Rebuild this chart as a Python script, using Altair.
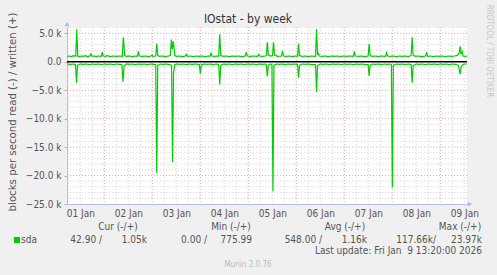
import altair as alt
import pandas as pd

# hours since 01 Jan 00:00 ; graph spans 05:20 Jan 1 -> 13:20 Jan 9
X_MIN, X_MAX = 5.333, 205.333
Y_MIN, Y_MAX = -25000, 6100

write_series = [
    (5.4, 950), (6.5, 1000), (7.5, 900), (8.5, 1050), (9.7, 950), (10.2, 5700), (10.7, 1000),
    (11.5, 900), (12.5, 1000), (13.5, 950), (14.5, 1050), (15.5, 900), (16.8, 1000), (17.3, 1400),
    (17.8, 950), (19, 1000), (20, 900), (21, 1000), (22.5, 950), (23, 1700), (23.5, 1000),
    (24.5, 950), (25.5, 1050), (27, 900), (28.5, 1000), (30, 950), (31.5, 1000), (33, 950),
    (33.5, 4300), (34.2, 1100), (35, 950), (36.5, 1000), (38, 900), (39.5, 1000), (40.5, 950),
    (41, 1800), (41.5, 1000), (43, 950), (44.5, 1000), (46, 900), (47.3, 1000), (47.8, 1200),
    (48.3, 950), (49.7, 1000), (50.2, 3200), (50.7, 1100), (51.5, 950), (53, 1000), (54.5, 900),
    (56, 1000), (57.0, 1100), (57.5, 3900), (58.0, 2200), (58.5, 3600), (59.2, 1100), (60, 950),
    (61.5, 1000), (63, 900), (64.5, 1000), (65, 1300), (65.5, 950), (67, 1000), (68.5, 900),
    (70, 1000), (71.5, 950), (73, 1000), (74.5, 900), (76, 1000), (76.8, 950), (77.3, 1500),
    (77.8, 1000), (79, 950), (80.5, 1000), (81.2, 1000), (81.7, 4800), (82.2, 1100), (83.5, 950),
    (85, 1000), (86.5, 900), (88, 1000), (89.5, 950), (91, 1000), (92.5, 900), (94.5, 1000),
    (95, 1700), (95.5, 1000), (97, 950), (98.5, 1000), (100.7, 950), (101.2, 1300), (101.7, 1000),
    (103, 950), (104.5, 1000), (105.0, 1100), (105.5, 3400), (106.0, 1200), (107, 1000),
    (108.1, 1100), (108.6, 3400), (109.1, 1200), (110.5, 950), (112.6, 1000), (113.1, 1900),
    (113.6, 1000), (115, 950), (116.5, 1000), (118, 900), (119.5, 1000), (120.6, 950),
    (121.1, 3200), (121.6, 1100), (123, 950), (124.5, 1000), (126, 900), (127.5, 1000),
    (129.6, 950), (130.1, 5700), (130.6, 1200), (130.9, 1500), (131.5, 1000), (133, 950),
    (134.5, 1000), (136, 900), (137.5, 1000), (139, 950), (140.5, 1000), (142, 900),
    (143.5, 1000), (145, 950), (146.5, 1000), (148.5, 950), (149, 1800), (149.5, 1000),
    (151, 950), (152.5, 1000), (154, 900), (155.9, 1000), (156.4, 3100), (156.9, 1100),
    (158, 950), (159.5, 1000), (161, 900), (162.5, 1000), (164.6, 950), (165.1, 1600),
    (165.6, 1000), (167, 950), (168.5, 1000), (170, 900), (171.5, 1000), (173, 950),
    (174.5, 1000), (176, 900), (177.4, 1100), (177.9, 4300), (178.4, 1200), (179.5, 950),
    (181, 1000), (182.5, 900), (184.6, 1000), (185.1, 1700), (185.6, 950), (187, 1000),
    (188.5, 900), (190, 1000), (191.5, 950), (193, 1000), (194.5, 900), (196, 1000),
    (197.5, 950), (199, 1000), (200.5, 1100), (201.4, 1500), (201.9, 2700), (202.4, 1300),
    (202.9, 1800), (203.4, 1000), (204.5, 950), (205.3, 1000),
]

read_series = [
    (5.4, -400), (7, -450), (8.5, -400), (9.6, -500), (10.1, -3700), (10.6, -600), (12, -400),
    (13.5, -450), (15, -400), (16.5, -500), (18, -400), (19.5, -450), (21, -400), (22.5, -500),
    (24, -400), (25.5, -450), (27, -400), (28.5, -500), (30, -400), (31.5, -450), (32.8, -500),
    (33.3, -3500), (33.9, -700), (35, -400), (36.5, -450), (38, -400), (39.5, -500), (41, -400),
    (42.5, -450), (44, -400), (45.5, -500), (47, -400), (48.5, -450), (49.7, -500),
    (50.2, -19600), (50.7, -600), (52, -400), (53.5, -450), (55, -400), (56.5, -500),
    (57.6, -600), (58.1, -17600), (58.6, -2000), (59.2, -500), (60.5, -400), (62, -450),
    (63.5, -400), (65, -500), (66.5, -400), (68, -450), (69.5, -400), (71.5, -500),
    (72, -2100), (72.5, -500), (74, -400), (75.5, -450), (77, -400), (78.5, -500), (80, -400),
    (81.2, -500), (81.7, -4000), (82.2, -700), (83.5, -400), (85, -450), (86.5, -400),
    (88, -500), (89.5, -400), (91, -450), (92.5, -400), (94, -500), (95.5, -400), (97, -450),
    (98.5, -400), (100, -500), (101.5, -400), (103, -450), (104.5, -400), (105.0, -500),
    (105.5, -2600), (106.0, -600), (107, -400), (107.8, -500), (108.3, -22800), (108.8, -600),
    (110, -400), (111.5, -450), (113, -400), (114.5, -500), (116, -400), (117.5, -450),
    (119, -400), (120.6, -500), (121.1, -2800), (121.6, -600), (123, -400), (124.5, -450),
    (126, -400), (127.5, -500), (129.6, -500), (130.1, -5300), (130.6, -700), (132, -400),
    (133.5, -450), (135, -400), (136.5, -500), (138, -400), (139.5, -450), (141, -400),
    (142.5, -500), (144, -400), (145.5, -450), (147, -400), (148.5, -500), (150, -400),
    (151.5, -450), (153, -400), (154.5, -500), (155.9, -500), (156.4, -2500), (156.9, -600),
    (158, -400), (159.5, -450), (161, -400), (162.5, -500), (164, -400), (165.5, -450),
    (167, -400), (167.5, -500), (168.0, -22100), (168.5, -600), (170, -400), (171.5, -450),
    (173, -400), (174.5, -500), (176, -400), (177.4, -500), (177.9, -3700), (178.4, -700),
    (180, -400), (181.5, -450), (183, -400), (184.5, -500), (186, -400), (187.5, -450),
    (189, -400), (190.5, -500), (192, -400), (193.5, -450), (195, -400), (196.5, -500),
    (198, -400), (199.5, -450), (201.0, -600), (201.9, -2200), (202.5, -800), (203.5, -450),
    (204.5, -400), (205.3, -400),
]

label_hours = [12, 36, 60, 84, 108, 132, 156, 180, 204]
day_lines = [24, 48, 72, 96, 120, 144, 168, 192]
minor_vlines = [h for h in range(6, 206, 6) if h % 24 != 0]
y_ticks = [-25000, -20000, -15000, -10000, -5000, 0, 5000]
major_hlines = [-20000, -15000, -10000, -5000, 5000]
minor_hlines = [v for v in range(-24000, 6001, 1000) if v % 5000 != 0]

legend_head = ["Cur (-/+)", "Min (-/+)", "Avg (-/+)", "Max (-/+)"]
legend_vals = ["42.90 /", "1.05k", "0.00 /", "775.99", "548.00 /", "1.16k", "117.66k/", "23.97k"]

FONT = "DejaVu Sans Condensed, DejaVu Sans"
FONT_WIDE = "DejaVu Sans"
TXT = "#555555"
GREEN = "#00cc00"
AXIS_C = "#b8bce8"

df = pd.DataFrame(
    [{"h": h, "v": v, "s": "w"} for h, v in write_series]
    + [{"h": h, "v": v, "s": "r"} for h, v in read_series]
)

xs = alt.Scale(domain=[X_MIN, X_MAX], nice=False, zero=False)
ys = alt.Scale(domain=[Y_MIN, Y_MAX], nice=False, zero=False)

x_axis = alt.Axis(
    values=label_hours, title=None, grid=False, ticks=False,
    labelExpr="'0' + (floor(datum.value / 24) + 1) + ' Jan'",
    labelFont=FONT, labelFontSize=10, labelColor=TXT, labelPadding=4,
    domainColor=AXIS_C, labelFlush=False)
y_axis = alt.Axis(
    values=y_ticks, grid=False, tickSize=3, tickColor="#e0a0a0",
    labelExpr="datum.value == 0 ? '0.0' : format(datum.value / 1000, '.1f') + ' k'",
    labelFont=FONT, labelFontSize=10, labelColor=TXT, labelPadding=3,
    domainColor=AXIS_C,
    title="blocks per second read (-) / written (+)",
    titleFont=FONT_WIDE, titleFontSize=10.2, titleFontWeight="normal", titleColor=TXT,
    titleX=-55, titleY=84.5, titleAlign="center", titleBaseline="middle")

def X(field="h"):
    return alt.X(f"{field}:Q", scale=xs, axis=x_axis)

def Y(field="v"):
    return alt.Y(f"{field}:Q", scale=ys, axis=y_axis)

def vrules(vals, color):
    return alt.Chart(pd.DataFrame({"h": vals})).mark_rule(
        color=color, strokeWidth=1, strokeDash=[1, 2]
    ).encode(x=X())

def hrules(vals, color):
    return alt.Chart(pd.DataFrame({"v": vals})).mark_rule(
        color=color, strokeWidth=1, strokeDash=[1, 2]
    ).encode(y=Y())

lines = alt.Chart(df).mark_line(color=GREEN, strokeWidth=1.2).encode(
    x=X(), y=Y(), detail="s:N",
)

zero = alt.Chart(pd.DataFrame({"v": [0]})).mark_rule(color="#000000", strokeWidth=1.6).encode(y=Y())

arrow_up = alt.Chart(pd.DataFrame({"h": [X_MIN], "v": [Y_MAX]})).mark_point(
    shape="triangle-up", filled=True, color="#b0b6ee", size=25, opacity=1, yOffset=-3
).encode(x=X(), y=Y())
arrow_right = alt.Chart(pd.DataFrame({"h": [X_MAX], "v": [Y_MIN]})).mark_point(
    shape="triangle-right", filled=True, color="#b0b6ee", size=25, opacity=1, xOffset=3
).encode(x=X(), y=Y())

def txt(s, x, y, align="left", size=10, color=TXT, angle=0, baseline="middle", font=FONT):
    return alt.Chart(pd.DataFrame({"t": [s]})).mark_text(
        font=font, fontSize=size, color=color, align=align, baseline=baseline, angle=angle
    ).encode(x=alt.value(x - 67), y=alt.value(y - 27), text="t:N")

texts = [
    txt("IOstat - by week", 248, 19, "center", 12, "#333333"),
    txt("RRDTOOL / TOBI OETIKER", 489, 51, "center", 8, "#c8c8c8", angle=90),
    txt("Munin 2.0.76", 248, 265, "center", 8, "#bbbbbb"),
    txt(legend_head[0], 118, 227, "center"),
    txt(legend_head[1], 231, 227, "center"),
    txt(legend_head[2], 345, 227, "center"),
    txt(legend_head[3], 460, 227, "center"),
    txt("sda", 21, 240, "left"),
    txt("Last update: Fri Jan\u00a0 9 13:20:00 2026", 482, 251, "right"),
]
val_right = [102, 147, 207, 252, 322, 367, 436, 482]
for s, xr in zip(legend_vals, val_right):
    texts.append(txt(s, xr, 240, "right"))

swatch = alt.Chart(pd.DataFrame({"a": [0]})).mark_rect(color=GREEN).encode(
    x=alt.value(14 - 67), x2=alt.value(20 - 67), y=alt.value(237 - 27), y2=alt.value(243 - 27))

chart = alt.layer(
    vrules(minor_vlines, "#d4d4d4"),
    hrules(minor_hlines, "#d4d4d4"),
    vrules(day_lines, "#e8a0a0"),
    hrules(major_hlines, "#e8a0a0"),
    lines,
    zero,
    arrow_up,
    arrow_right,
    swatch,
    *texts,
).properties(
    width=400, height=177,
    autosize=alt.AutoSizeParams(type="none"),
    padding={"left": 67, "top": 27, "right": 30, "bottom": 71},
    background="#f0f0f0",
).configure_view(fill="white", stroke=None)

chart.save("out.html", embed_options={"renderer": "svg", "actions": False})
